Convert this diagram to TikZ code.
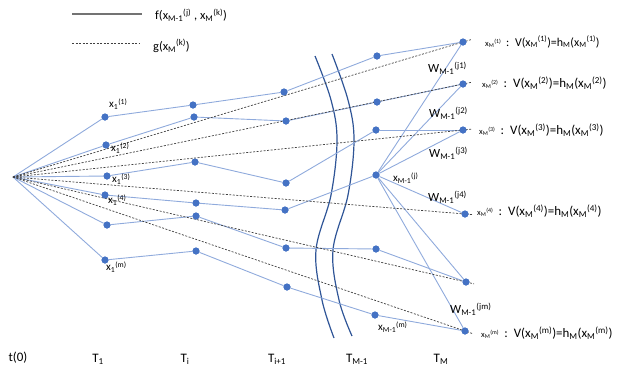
\documentclass[tikz,border=0pt]{standalone}
\usepackage{fontspec}
\setmainfont{Carlito}
\usetikzlibrary{calc}
\definecolor{nodeblue}{HTML}{4472C4}
\definecolor{edgeblue}{HTML}{8FAADC}
\definecolor{curveblue}{HTML}{2F5597}
\definecolor{dashgray}{HTML}{404040}
\newcommand\ssb[3]{#1\textsubscript{#2}\textsuperscript{#3}}
\begin{document}
\begin{tikzpicture}[x=1bp,y=-1bp,
  pt/.style={circle,fill=nodeblue,inner sep=0pt,minimum size=7bp},
  edge/.style={draw=edgeblue,line width=0.9bp},
  gdash/.style={draw=dashgray,line width=0.7bp,dash pattern=on 2bp off 1.5bp},
  wave/.style={draw=curveblue,line width=1.2bp},
  lbl/.style={font=\fontsize{11}{12}\selectfont,inner sep=0pt,anchor=west},
  wlbl/.style={font=\fontsize{12.5}{14}\selectfont,inner sep=0pt,anchor=west},
  rowlbl/.style={font=\fontsize{13}{15}\selectfont,inner sep=0pt,anchor=west},
  small/.style={font=\fontsize{8.5}{10}\selectfont},
  axis/.style={font=\fontsize{13}{15}\selectfont,inner sep=0pt}]
\useasboundingbox (0,0) rectangle (638,386);
% legend
\coordinate (l1a) at (72,14); \coordinate (l1b) at (142,14);
\coordinate (l2a) at (72,43); \coordinate (l2b) at (140,43);
\draw[draw=gray!90!black,line width=1.2bp] (l1a) -- (l1b);
\draw[gdash] (l2a) -- (l2b);
\node[wlbl] (lf) at (155,15) {f(\ssb{x}{M-1}{(j)} , \ssb{x}{M}{(k)})};
\node[wlbl] (lg) at (153,46) {g(\ssb{x}{M}{(k)})};
% root
\coordinate (r) at (13,177);
% T1
\node[pt] (a1) at (105,117) {};
\node[pt] (a2) at (106,145) {};
\node[pt] (a3) at (107,176) {};
\node[pt] (a4) at (105,195) {};
\node[pt] (a5) at (107,225) {};
\node[pt] (a6) at (105,260) {};
% Ti
\node[pt] (b1) at (193,105) {};
\node[pt] (b2) at (194,117) {};
\node[pt] (b3) at (195,162) {};
\node[pt] (b4) at (196,203) {};
\node[pt] (b5) at (196,216) {};
\node[pt] (b6) at (196,251) {};
% Ti+1
\node[pt] (c1) at (284,92) {};
\node[pt] (c2) at (286,121) {};
\node[pt] (c3) at (286,183) {};
\node[pt] (c4) at (285,210) {};
\node[pt] (c5) at (286,248) {};
\node[pt] (c6) at (287,287) {};
% TM-1
\node[pt] (d1) at (377,56) {};
\node[pt] (d2) at (377,102) {};
\node[pt] (d3) at (376,130) {};
\node[pt] (d4) at (376,175) {};
\node[pt] (d5) at (376,249) {};
\node[pt] (d6) at (375,315) {};
% TM
\node[pt] (e1) at (463,42) {};
\node[pt] (e2) at (463,84) {};
\node[pt] (e3) at (463,130) {};
\node[pt] (e4) at (465,214) {};
\node[pt] (e5) at (466,282) {};
\node[pt] (e6) at (465,331) {};
% wavy separators
\draw[wave] plot[smooth,tension=0.6] coordinates {(315,56) (331,100) (337,140) (331,195) (316,250) (322,300) (334,338)};
\draw[wave] plot[smooth,tension=0.6] coordinates {(332,54) (348,100) (354,140) (348,195) (333,250) (339,300) (352,336)};
% solid edges
\foreach \n in {a1,a2,a3,a4,a5,a6} \draw[edge] (r) -- (\n);
\foreach \i in {1,...,6} {
  \draw[edge] (a\i) -- (b\i);
  \draw[edge] (b\i) -- (c\i);
  \draw[edge] (c\i) -- (d\i);
}
\draw[edge] (d1) -- (e1);
\draw[edge] (d2) -- (e2);
\draw[edge] (d3) -- (e3);
\draw[edge] (d5) -- (e5);
\draw[edge] (d6) -- (e6);
\foreach \n in {e1,e2,e3,e4,e5,e6} \draw[edge] (d4) -- (\n);
% dashed g lines
\foreach \n in {e1,e2,e3,e4,e5,e6} {
  \coordinate (end\n) at ($(r)!1.018!(\n)$);
  \draw[gdash] (r) -- (end\n);
}
% redraw nodes on top
\foreach \n in {a1,a2,a3,a4,a5,a6,b1,b2,b3,b4,b5,b6,c1,c2,c3,c4,c5,c6,d1,d2,d3,d4,d5,d6,e1,e2,e3,e4,e5,e6}
  \fill[nodeblue] (\n) circle (3.5bp);
% x1 labels
\node[lbl] (la1) at (109,104) {\ssb{x}{1}{(1)}};
\node[lbl] (la2) at (111,148) {\ssb{x}{1}{(2)}};
\node[lbl] (la3) at (112,179) {\ssb{x}{1}{(3)}};
\node[lbl] (la4) at (108,200) {\ssb{x}{1}{(4)}};
\node[lbl] (la6) at (106,267) {\ssb{x}{1}{(m)}};
% W labels
\node[wlbl] (w1) at (428,68) {\ssb{W}{M-1}{(j1)}};
\node[wlbl] (w2) at (429,113) {\ssb{W}{M-1}{(j2)}};
\node[wlbl] (w3) at (429,153) {\ssb{W}{M-1}{(j3)}};
\node[lbl] (xj) at (393,178) {\ssb{x}{M-1}{(j)}};
\node[wlbl] (w4) at (428,197) {\ssb{W}{M-1}{(j4)}};
\node[wlbl] (wm) at (450,309) {\ssb{W}{M-1}{(jm)}};
\node[lbl] (xm) at (378,327) {\ssb{x}{M-1}{(m)}};
% right labels
\node[rowlbl,font=\fontsize{12}{14}\selectfont] (r1) at (485,42) {{\fontsize{8.5}{10}\selectfont\ssb{x}{M}{(1)}} \,:\, V(\ssb{x}{M}{(1)})=h\textsubscript{M}(\ssb{x}{M}{(1)})};
\node[rowlbl] (r2) at (482,83) {{\fontsize{8.5}{10}\selectfont\ssb{x}{M}{(2)}} \,:\, V(\ssb{x}{M}{(2)})=h\textsubscript{M}(\ssb{x}{M}{(2)})};
\node[rowlbl] (r3) at (479,130) {{\fontsize{8.5}{10}\selectfont\ssb{x}{M}{(3)}} \,:\, V(\ssb{x}{M}{(3)})=h\textsubscript{M}(\ssb{x}{M}{(3)})};
\node[rowlbl] (r4) at (477,211) {{\fontsize{8.5}{10}\selectfont\ssb{x}{M}{(4)}} \,:\, V(\ssb{x}{M}{(4)})=h\textsubscript{M}(\ssb{x}{M}{(4)})};
\node[rowlbl] (rm) at (481,333) {{\fontsize{8.5}{10}\selectfont\ssb{x}{M}{(m)}} \,:\, V(\ssb{x}{M}{(m)})=h\textsubscript{M}(\ssb{x}{M}{(m)})};
% axis labels
\node[axis] (t0) at (18,358) {t(0)};
\node[axis] (t1) at (98,359) {T\textsubscript{1}};
\node[axis] (ti) at (185,359) {T\textsubscript{i}};
\node[axis] (ti1) at (277,359) {T\textsubscript{i+1}};
\node[axis] (tm1) at (357,359) {T\textsubscript{M-1}};
\node[axis] (tm) at (441,359) {T\textsubscript{M}};
\end{tikzpicture}
\end{document}
